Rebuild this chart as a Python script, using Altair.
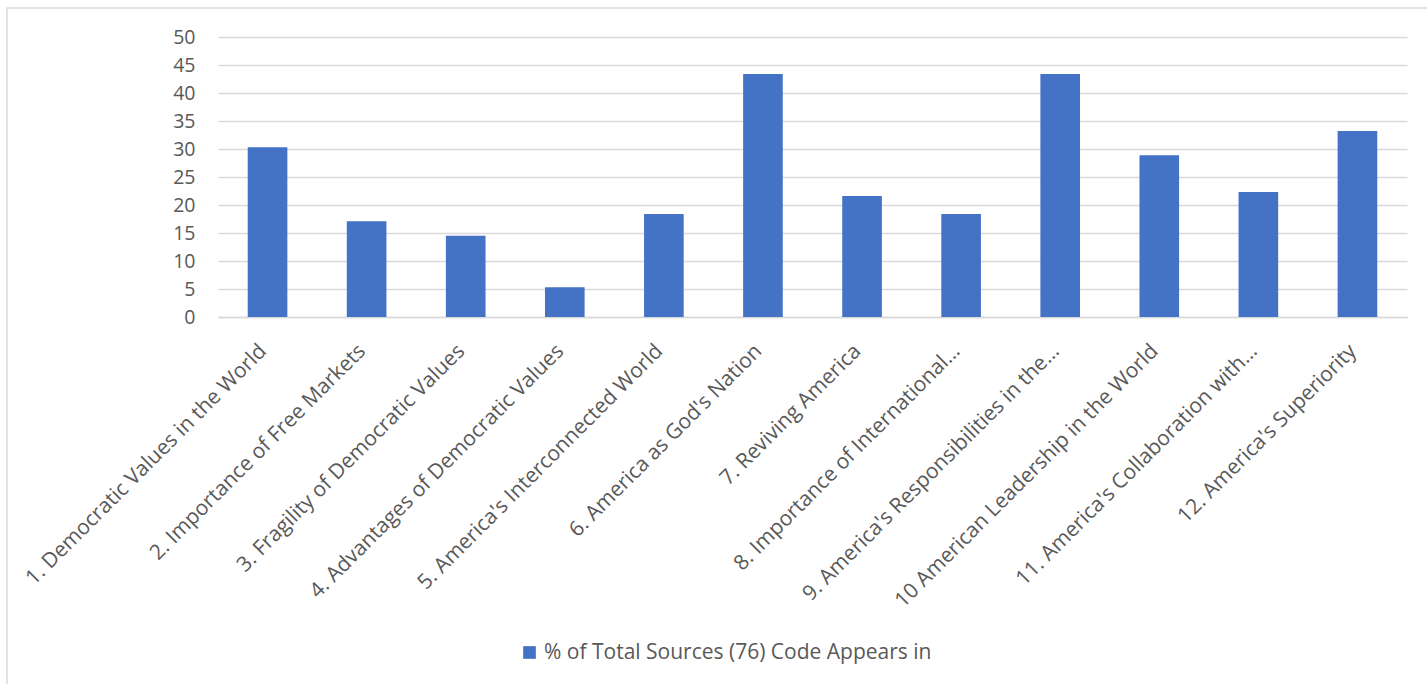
import altair as alt
import pandas as pd

categories = [
    "1. Democratic Values in the World",
    "2. Importance of Free Markets",
    "3. Fragility of Democratic Values",
    "4. Advantages of Democratic Values",
    "5. America's Interconnected World",
    "6. America as God's Nation",
    "7. Reviving America",
    "8. Importance of International…",
    "9. America's Responsibilities in the…",
    "10 American Leadership in the World",
    "11. America's Collaboration with…",
    "12. America's Superiority",
]
values = [30.3, 17.1, 14.5, 5.3, 18.4, 43.4, 21.6, 18.4, 43.4, 28.9, 22.3, 33.2]
series_name = "% of Total Sources (76) Code Appears in"
y_ticks = [0, 5, 10, 15, 20, 25, 30, 35, 40, 45, 50]

df = pd.DataFrame({"category": categories, "value": values, "series": [series_name] * len(categories)})

FONT = "Open Sans"
TEXT = "#595959"
GRID = "#d9d9d9"

bars = alt.Chart(df).mark_bar(color="#4472C4").encode(
    x=alt.X(
        "category:N",
        sort=None,
        title=None,
        scale=alt.Scale(paddingInner=0.6, paddingOuter=0.3),
        axis=alt.Axis(
            labelAngle=-45,
            labelAlign="right",
            labelBaseline="alphabetic",
            labelPadding=35,
            labelFont=FONT,
            labelFontSize=21,
            labelColor=TEXT,
            labelLimit=0,
            ticks=False,
            domainColor=GRID,
            domainWidth=1.3,
            grid=False,
        ),
    ),
    y=alt.Y(
        "value:Q",
        title=None,
        scale=alt.Scale(domain=[0, 50], nice=False),
        axis=alt.Axis(
            values=y_ticks,
            domain=False,
            ticks=False,
            grid=True,
            gridColor=GRID,
            gridWidth=1.3,
            labelFont=FONT,
            labelFontSize=19.5,
            labelColor=TEXT,
            labelPadding=23,
        ),
    ),
    color=alt.Color(
        "series:N",
        scale=alt.Scale(range=["#4472C4"]),
        legend=alt.Legend(
            title=None,
            orient="none",
            legendX=301,
            legendY=605,
            symbolType="square",
            symbolSize=160,
            symbolStrokeWidth=0,
            labelFont=FONT,
            labelFontSize=21,
            labelColor=TEXT,
            labelLimit=0,
        ),
    ),
)

border = alt.Chart(alt.Data(values=[{}])).mark_rect(
    filled=False, stroke=GRID, strokeWidth=1.5, clip=False
).encode(
    x=alt.value(-211),
    y=alt.value(-29),
    x2=alt.value(1230),
    y2=alt.value(700),
)

chart = alt.layer(border, bars).properties(
    width=1189,
    height=280,
    autosize=alt.AutoSizeParams(type="none"),
    padding={"left": 218, "top": 37, "right": 20, "bottom": 367},
    background="white",
).configure_view(strokeWidth=0)

chart.save("out.html", embed_options={"renderer": "svg", "actions": False})
